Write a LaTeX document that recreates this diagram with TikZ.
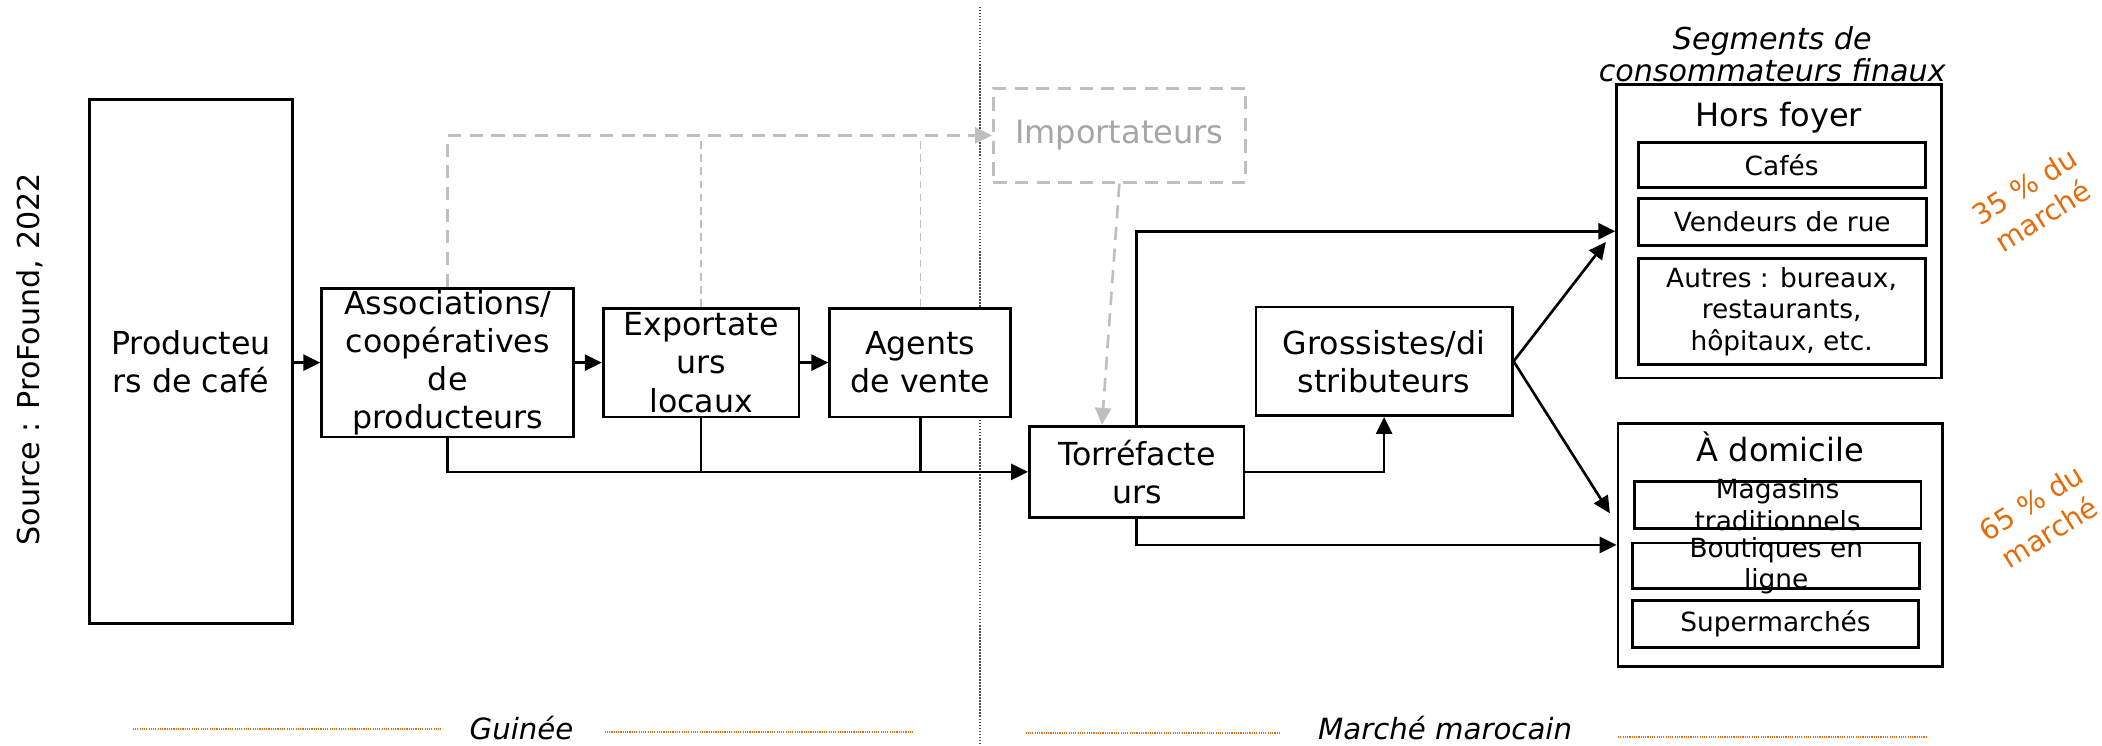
\documentclass[tikz,border=0pt]{standalone}
\usepackage{fontspec}
\setmainfont{DejaVu Sans}
\usetikzlibrary{positioning, arrows.meta}
\definecolor{markorange}{RGB}{228,108,10}
\definecolor{dashgray}{RGB}{191,191,191}
\definecolor{textgray}{RGB}{166,166,166}
\tikzset{
  box/.style={draw=black, line width=1.5pt, fill=white, inner sep=0pt, align=center,
    font=\fontsize{16.8}{20.2}\selectfont},
  subbox/.style={box, font=\fontsize{14}{16.8}\selectfont},
  boxtext/.style={align=center, inner sep=0pt, font=\fontsize{16.8}{20.2}\selectfont},
  subtext/.style={boxtext, font=\fontsize{14}{16.8}\selectfont},
  flow/.style={line width=1.4pt, -{Triangle[length=9pt,width=8.5pt]}},
  link/.style={line width=1.4pt},
  ghost/.style={draw=dashgray, line width=1.4pt, dash pattern=on 7pt off 4.5pt},
  ghostflow/.style={ghost, -{Triangle[length=9pt,width=8.5pt,fill=dashgray]}},
  ghostlink/.style={draw=dashgray, line width=0.8pt, dash pattern=on 4pt off 3pt},
  region/.style={draw=markorange, line width=0.9pt, dash pattern=on 0.6pt off 0.6pt},
  regionlabel/.style={font=\fontsize{15.5}{18}\selectfont\itshape, inner sep=0pt},
  share/.style={rotate=32, text=markorange, align=center, inner sep=0pt,
    font=\fontsize{15}{18.5}\selectfont}
}
\begin{document}
\begin{tikzpicture}[x=0.025cm, y=-0.025cm]
  \useasboundingbox (0,0) rectangle (1568,556);

  % border between the two markets
  \draw[gray!60!black, line width=0.6pt, dash pattern=on 0.8pt off 0.8pt] (731,5) -- (731,556);

  \node[rotate=90, font=\fontsize{16}{19}\selectfont] (source) at (22,268) {Source : ProFound, 2022};

  % Guinee side
  \node[box, minimum width=3.775cm, minimum height=9.775cm] (prod) at (142.5,269.5) {Producteu\\rs de café};
  \node[box, minimum width=4.7cm, minimum height=2.775cm] (assoc) at (334,270.5) {};
  \node[boxtext] (assoc-text) at (assoc.center) {Associations/\\coopératives\\de\\producteurs};
  \node[box, minimum width=3.65cm, minimum height=2.025cm] (export) at (523,270.5) {};
  \node[boxtext] (export-text) at (export.center) {Exportate\\urs\\locaux};
  \node[box, minimum width=3.375cm, minimum height=2.025cm] (agents) at (686.5,270.5) {Agents\\de vente};

  % Maroc side
  \node[ghost, minimum width=4.7cm, minimum height=1.75cm, text=textgray,
    font=\fontsize{17}{20}\selectfont] (import) at (835,101) {Importateurs};
  \node[box, minimum width=4cm, minimum height=1.7cm] (torr) at (848,352) {Torréfacte\\urs};
  \node[box, minimum width=4.775cm, minimum height=2.025cm] (gross) at (1032.5,269.5) {Grossistes/di\\stributeurs};

  % consumer segments
  \node[font=\fontsize{16}{17}\selectfont\itshape, align=center, anchor=base] (seg-title) at (1322,61)
    {Segments de\\consommateurs finaux};
  \node[box, minimum width=6.05cm, minimum height=5.475cm] (hors) at (1327,172.5) {};
  \node[font=\fontsize{17}{20}\selectfont, anchor=base] (hors-title) at (1327,94.5) {Hors foyer};
  \node[subbox, minimum width=5.35cm, minimum height=0.85cm] (cafes) at (1329,123) {Cafés};
  \node[subbox, minimum width=5.375cm, minimum height=0.875cm] (vendeurs) at (1329.5,165.5) {Vendeurs de rue};
  \node[subbox, minimum width=5.35cm, minimum height=1.975cm] (autres) at (1329,232.5)
    {Autres : bureaux,\\restaurants,\\hôpitaux, etc.};

  \node[box, minimum width=6.05cm, minimum height=4.525cm] (dom) at (1328,406.5) {};
  \node[font=\fontsize{17}{20}\selectfont, anchor=base] (dom-title) at (1328,344) {À domicile};
  \node[subbox, minimum width=5.35cm, minimum height=0.875cm] (magasins) at (1326,376.5) {};
  \node[subtext] (magasins-text) at (magasins.center) {Magasins\\traditionnels};
  \node[subbox, minimum width=5.35cm, minimum height=0.85cm] (boutiques) at (1325,422) {};
  \node[subtext] (boutiques-text) at (boutiques.center) {Boutiques en\\ligne};
  \node[subbox, minimum width=5.325cm, minimum height=0.875cm] (superm) at (1324.5,465.5) {Supermarchés};

  \node[share] (share-hors) at (1517,150) {35 \% du\\marché};
  \node[share] (share-dom) at (1522,386) {65 \% du\\marché};

  % flows
  \draw[flow] (prod.east |- assoc) -- (assoc.west);
  \draw[flow] (assoc.east) -- (export.west);
  \draw[flow] (export.east) -- (agents.west);
  \draw[flow] (assoc.south) |- (torr.west);
  \draw[link] (export.south) -- (export.south |- torr.west);
  \draw[link] (agents.south) -- (agents.south |- torr.west);

  \draw[ghostflow] (assoc.north) |- (import.west);
  \draw[ghostlink] (export.north) -- (export.north |- import.west);
  \draw[ghostlink] (agents.north) -- (agents.north |- import.west);
  \draw[ghostflow] (import.south) -- ([xshift=-0.65cm]torr.north);

  \draw[flow] (torr.north) |- (hors.west);
  \draw[flow] (torr.east) -| (gross.south);
  \draw[flow] (torr.south) |- (dom.west);
  \draw[flow] (gross.east) -- ([xshift=-0.175cm,yshift=-0.2cm]hors.west);
  \draw[flow] (gross.east) -- ([xshift=-0.125cm,yshift=0.59cm]dom.west);

  % market labels
  \node[regionlabel] (guinee) at (389,543) {Guinée};
  \node[regionlabel] (maroc) at (1078,543) {Marché marocain};
  \draw[region] (99,544) -- (329,544);
  \draw[region] (451,546) -- (681,546);
  \draw[region] (765,547) -- (955,547);
  \draw[region] (1207,550) -- (1437,550);
\end{tikzpicture}
\end{document}
